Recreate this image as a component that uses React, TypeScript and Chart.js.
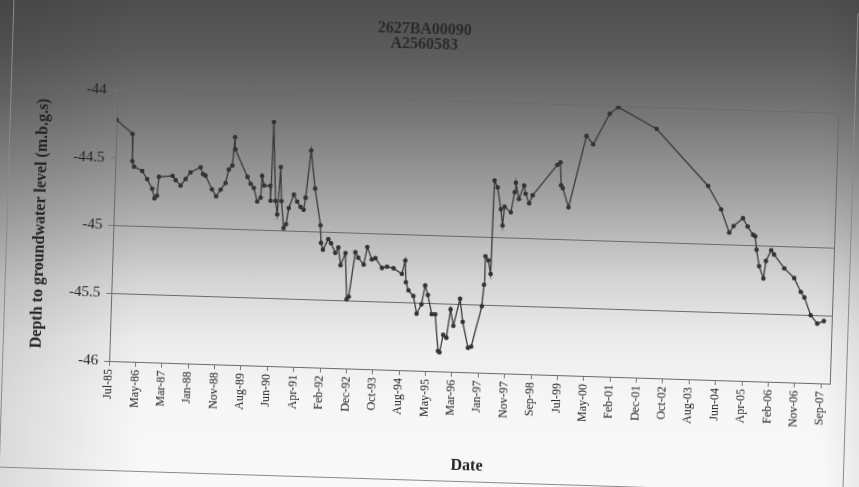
import React, { useEffect, useRef } from "react";
import { Chart, registerables } from "chart.js";

Chart.register(...registerables);

const TITLE_LINES = ["2627BA00090", "A2560583"];
const X_TITLE = "Date";
const Y_TITLE = "Depth to groundwater level (m.b.g.s)";
// one label every 300 days, starting 22-Jul-1985
const TICK_LABELS = [
  "Jul-85", "May-86", "Mar-87", "Jan-88", "Nov-88", "Aug-89", "Jun-90", "Apr-91",
  "Feb-92", "Dec-92", "Oct-93", "Aug-94", "May-95", "Mar-96", "Jan-97", "Nov-97",
  "Sep-98", "Jul-99", "May-00", "Feb-01", "Dec-01", "Oct-02", "Aug-03", "Jun-04",
  "Apr-05", "Feb-06", "Nov-06", "Sep-07",
];
const TICK_STEP_DAYS = 300;
const X_MAX_DAYS = 8200;
const Y_MIN = -46;
const Y_MAX = -44;
const Y_STEP = 0.5;

// days since 22-Jul-1985
const DAYS = [
  0, 185, 192, 213, 308, 367, 428, 457, 485, 500, 656, 691, 749, 804, 858, 971, 1000, 1029,
  1108, 1157, 1206, 1260, 1292, 1331, 1352, 1360, 1507, 1545, 1583, 1626, 1664, 1673, 1700,
  1769, 1778, 1788, 1834, 1858, 1883, 1902, 1935, 1962, 1987, 2041, 2080, 2121, 2157, 2175,
  2222, 2280, 2354, 2366, 2390, 2448, 2480, 2532, 2565, 2596, 2648, 2677, 2700, 2760, 2795,
  2859, 2894, 2950, 2990, 3068, 3125, 3200, 3296, 3331, 3345, 3377, 3435, 3478, 3530, 3565,
  3600, 3650, 3690, 3734, 3752, 3788, 3825, 3863, 3900, 3967, 4005, 4074, 4110, 4217, 4234,
  4240, 4275, 4305, 4317, 4355, 4399, 4423, 4440, 4513, 4550, 4560, 4600, 4655, 4675, 4718,
  4755, 5025, 5060, 5075, 5095, 5167, 5346, 5425, 5603, 5698, 6140, 6746, 6903, 7003, 7050,
  7154, 7210, 7275, 7300, 7320, 7355, 7408, 7430, 7486, 7520, 7642, 7758, 7838, 7880, 7958,
  8036, 8110,
];
// depth to groundwater level (m.b.g.s)
const DEPTH = [
  -44.22, -44.32, -44.52, -44.56, -44.59, -44.65, -44.72, -44.79, -44.77, -44.63, -44.62, -44.65,
  -44.69, -44.64, -44.59, -44.55, -44.6, -44.61, -44.71, -44.76, -44.71, -44.66, -44.56, -44.53,
  -44.32, -44.41, -44.61, -44.66, -44.69, -44.79, -44.76, -44.6, -44.67, -44.67, -44.78, -44.2,
  -44.78, -44.88, -44.53, -44.78, -44.98, -44.95, -44.83, -44.73, -44.78, -44.82, -44.84, -44.75,
  -44.4, -44.68, -44.95, -45.08, -45.13, -45.05, -45.08, -45.15, -45.11, -45.24, -45.15, -45.49,
  -45.47, -45.14, -45.18, -45.23, -45.1, -45.19, -45.18, -45.25, -45.24, -45.25, -45.29, -45.19,
  -45.35, -45.41, -45.45, -45.58, -45.51, -45.37, -45.44, -45.58, -45.58, -45.85, -45.86, -45.73,
  -45.75, -45.54, -45.66, -45.46, -45.63, -45.82, -45.81, -45.51, -45.35, -45.14, -45.17, -45.27,
  -44.58, -44.63, -44.79, -44.91, -44.77, -44.81, -44.66, -44.59, -44.71, -44.61, -44.67, -44.74,
  -44.68, -44.45, -44.43, -44.6, -44.62, -44.76, -44.23, -44.29, -44.06, -44.01, -44.16, -44.57,
  -44.74, -44.91, -44.86, -44.8, -44.86, -44.92, -44.93, -45.03, -45.15, -45.24, -45.11, -45.03,
  -45.06, -45.16, -45.23, -45.33, -45.37, -45.5, -45.56, -45.54,
];

const FONT = "'Liberation Serif', 'Times New Roman', serif";

const decor = {
  id: "decor",
  beforeDatasetsDraw(chart: any) {
    const { ctx, chartArea: a } = chart;
    ctx.save();
    ctx.strokeStyle = "#6a6a6a";
    ctx.lineWidth = 1;
    ctx.strokeRect(a.left + 0.5, a.top + 0.5, a.right - a.left, a.bottom - a.top);
    ctx.restore();
  },
  afterDraw(chart: any) {
    const { ctx } = chart;
    ctx.save();
    ctx.strokeStyle = "#8a8a8a";
    ctx.lineWidth = 1;
    ctx.beginPath();
    ctx.moveTo(6.5, 0);
    ctx.lineTo(6.5, 480.5);
    ctx.lineTo(850.5, 480.5);
    ctx.lineTo(850.5, 0);
    ctx.stroke();
    ctx.font = `bold 16px ${FONT}`;
    ctx.fillStyle = "#2a2a2a";
    ctx.textAlign = "center";
    ctx.textBaseline = "middle";
    ctx.fillText(TITLE_LINES[0], 418, 30);
    ctx.fillText(TITLE_LINES[1], 418, 45);
    ctx.restore();
  },
};

export default function App() {
  const ref = useRef<HTMLCanvasElement | null>(null);

  useEffect(() => {
    if (!ref.current) return;
    const chart = new Chart(ref.current, {
      type: "line",
      data: {
        datasets: [
          {
            data: DAYS.map((d, i) => ({ x: d, y: DEPTH[i] })),
            borderColor: "#3a3a3a",
            borderWidth: 1.3,
            pointRadius: 2.3,
            pointBackgroundColor: "#333",
            pointBorderColor: "#333",
            pointBorderWidth: 0,
            tension: 0,
          },
        ],
      },
      options: {
        animation: false,
        responsive: false,
        maintainAspectRatio: false,
        layout: { padding: { top: 100, right: 25, left: 0, bottom: 0 } },
        plugins: {
          legend: { display: false },
          tooltip: { enabled: false },
          title: { display: false },
        },
        scales: {
          x: {
            type: "linear",
            min: 0,
            max: X_MAX_DAYS,
            afterFit: (s: any) => {
              s.height = 116;
            },
            ticks: {
              stepSize: TICK_STEP_DAYS,
              includeBounds: false,
              autoSkip: false,
              maxRotation: 90,
              minRotation: 90,
              padding: 3,
              font: { family: FONT, size: 12 },
              color: "#222",
              callback: (v: any) => TICK_LABELS[Math.round(Number(v) / TICK_STEP_DAYS)] ?? "",
            },
            grid: { drawOnChartArea: false, tickLength: 5, color: "#777" },
            border: { color: "#777" },
            title: {
              display: true,
              text: X_TITLE,
              font: { family: FONT, size: 16, weight: "bold" },
              color: "#222",
              padding: { top: 0, bottom: 13 },
            },
          },
          y: {
            min: Y_MIN,
            max: Y_MAX,
            afterFit: (s: any) => {
              s.width = 113;
            },
            ticks: {
              stepSize: Y_STEP,
              padding: 6,
              font: { family: FONT, size: 15 },
              color: "#222",
              callback: (v: any) => String(v),
            },
            grid: {
              color: (c: any) =>
                c.tick && Math.abs(c.tick.value - -44.5) < 1e-6 ? "rgba(0,0,0,0)" : "#6a6a6a",
              tickColor: "#777",
              tickLength: 5,
            },
            border: { color: "#777" },
            title: {
              display: true,
              text: Y_TITLE,
              font: { family: FONT, size: 16, weight: "bold" },
              color: "#222",
              padding: { top: 30, bottom: 0 },
            },
          },
        },
      },
      plugins: [decor],
    } as any);
    return () => chart.destroy();
  }, []);

  return (
    <div
      style={{
        position: "fixed",
        left: 0,
        top: 0,
        width: 859,
        height: 487,
        overflow: "hidden",
        background:
          "linear-gradient(to right, rgba(0,0,0,0.12) 0px, rgba(0,0,0,0) 140px, rgba(0,0,0,0) 820px, rgba(0,0,0,0.06) 859px), linear-gradient(to bottom, #4e4e4e 0px, #5b5b5b 50px, #6f6f6f 100px, #8e8e8e 160px, #b0b0b0 220px, #d4d4d4 280px, #ececec 340px, #f6f6f6 400px, #f9f9f9 487px)",
      }}
    >
      <canvas
        ref={ref}
        width={859}
        height={487}
        style={{
          position: "absolute",
          left: 0,
          top: 0,
          width: 859,
          height: 487,
          transform: "rotate(1.8deg)",
          transformOrigin: "50% 50%",
        }}
      />
    </div>
  );
}
